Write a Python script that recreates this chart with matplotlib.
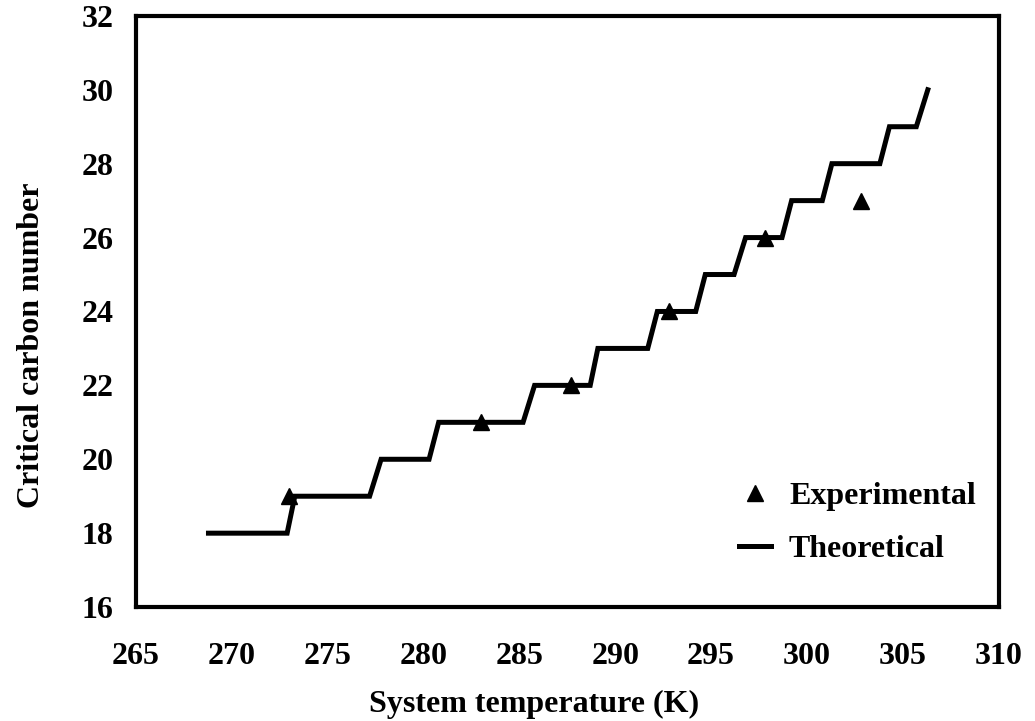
import matplotlib
matplotlib.use("Agg")
import matplotlib.pyplot as plt

# Experimental data
exp_temp = [273.0, 283.0, 287.7, 292.8, 297.8, 302.8]
exp_cn = [19, 21, 22, 24, 26, 27]

# Theoretical step curve (vertices)
theo_temp = [268.8, 272.9, 273.3, 277.2, 277.8, 280.3, 280.8, 285.2, 285.8,
             288.7, 289.1, 291.7, 292.2, 294.2, 294.7, 296.2, 296.8, 298.7,
             299.2, 300.8, 301.3, 303.8, 304.3, 305.7, 306.3]
theo_cn = [18, 18, 19, 19, 20, 20, 21, 21, 22,
           22, 23, 23, 24, 24, 25, 25, 26, 26,
           27, 27, 28, 28, 29, 29, 30]

x_ticks = [265, 270, 275, 280, 285, 290, 295, 300, 305, 310]
y_ticks = [16, 18, 20, 22, 24, 26, 28, 30, 32]

plt.rcParams['font.family'] = ['Liberation Serif', 'DejaVu Serif']
plt.rcParams['font.weight'] = 'bold'

FS = 23

fig = plt.figure(figsize=(10.35, 7.21), dpi=100)
ax = fig.add_axes([0.131, 0.158, 0.834, 0.820])

ax.plot(theo_temp, theo_cn, color='black', lw=3.6, solid_joinstyle='miter',
        label='Theoretical', zorder=2)
ax.plot(exp_temp, exp_cn, linestyle='none', marker='^', color='black',
        markersize=12, label='Experimental', zorder=3)

ax.set_xlim(265, 310)
ax.set_ylim(16, 32)
ax.set_xticks(x_ticks)
ax.set_yticks(y_ticks)
ax.tick_params(axis='both', length=0, labelsize=FS)
ax.tick_params(axis='x', pad=25)
ax.tick_params(axis='y', pad=16)
for lab in ax.get_xticklabels() + ax.get_yticklabels():
    lab.set_fontweight('bold')

for sp in ax.spines.values():
    sp.set_linewidth(3.0)
    sp.set_color('black')

ax.set_xlabel('System temperature (K)', fontsize=FS, fontweight='bold')
ax.xaxis.set_label_coords(0.462, -0.14)
ax.set_ylabel('Critical carbon number', fontsize=FS, fontweight='bold')
ax.yaxis.set_label_coords(-0.104, 0.443)

h, l = ax.get_legend_handles_labels()
leg = ax.legend([h[1], h[0]], [l[1], l[0]], loc='center left',
                bbox_to_anchor=(0.699, 0.275), bbox_transform=fig.transFigure,
                frameon=False, handlelength=1.0,
                handletextpad=0.55, labelspacing=0.75, borderpad=0,
                prop={'weight': 'bold', 'size': FS})

fig.savefig('out.png', dpi=100)
